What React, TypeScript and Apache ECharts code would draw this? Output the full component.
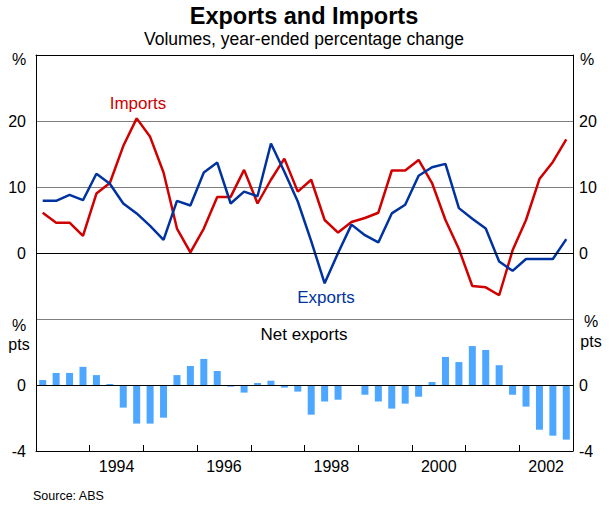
import React, { useEffect, useRef } from "react";
import * as echarts from "echarts";

// ---- Data (quarterly, 1993 Q1 to 2002 Q4) ----
const years = ["1993", "1994", "1995", "1996", "1997", "1998", "1999", "2000", "2001", "2002"];
const quarters = years.flatMap((y) => ["Q1", "Q2", "Q3", "Q4"].map((q) => `${y} ${q}`));

const imports = [
  6.1, 4.6, 4.6, 2.6, 9.0, 10.6, 16.2, 20.4, 17.6, 12.2,
  3.7, 0.1, 3.7, 8.5, 8.5, 12.6, 7.5, 11.1, 14.3, 9.3,
  11.1, 5.0, 3.1, 4.7, 5.3, 6.1, 12.5, 12.5, 14.1, 10.6,
  5.0, 0.6, -5.0, -5.2, -6.4, 0.4, 5.0, 11.2, 13.8, 17.2,
];

const exportsVol = [
  7.9, 7.9, 8.8, 8.0, 12.0, 10.5, 7.5, 6.0, 4.1, 2.0,
  7.9, 7.2, 12.2, 13.7, 7.5, 9.3, 8.6, 16.6, 12.3, 7.8,
  1.8, -4.6, 0.0, 4.3, 2.7, 1.6, 6.0, 7.3, 11.7, 13.0,
  13.5, 6.8, 5.2, 3.7, -1.3, -2.7, -0.9, -0.9, -0.9, 2.1,
];

const netExports = [
  0.3, 0.73, 0.73, 1.1, 0.6, 0.06, -1.37, -2.34, -2.34, -1.98,
  0.6, 1.15, 1.58, 0.85, -0.1, -0.46, 0.12, 0.26, -0.16, -0.4,
  -1.8, -1.0, -0.89, 0.0, -0.59, -1.0, -1.43, -1.13, -0.71, 0.18,
  1.7, 1.39, 2.36, 2.12, 1.2, -0.59, -1.31, -2.71, -3.07, -3.31,
];

const FONT = "'Liberation Sans', Arial, Helvetica, sans-serif";
const RED = "#D00000";
const BLUE = "#0033A0";
const BARS = "#4DA6FF";
const GRID_GREY = "#7F7F7F";

export default function App() {
  const ref = useRef<HTMLDivElement>(null);

  useEffect(() => {
    document.body.style.margin = "0";
    if (!ref.current) return;
    const chart = echarts.init(ref.current, undefined, { renderer: "svg" });

    const axisLabelStyle = { color: "#000", fontSize: 16, fontFamily: FONT };
    const txt = (text: string, x: number, y: number, opts: any = {}) => ({
      type: "text",
      x,
      y,
      silent: true,
      style: {
        text,
        fill: opts.fill || "#000",
        fontSize: opts.fontSize || 17,
        fontWeight: opts.fontWeight || "normal",
        fontFamily: FONT,
        textAlign: opts.align || "center",
        textVerticalAlign: "middle",
      },
    });

    const option: any = {
      animation: false,
      backgroundColor: "#fff",
      grid: [
        { left: 36, right: 37, top: 55, height: 264, show: false },
        { left: 36, right: 37, top: 319, height: 132, show: false },
      ],
      xAxis: [
        {
          type: "category",
          gridIndex: 0,
          data: quarters,
          position: "top",
          boundaryGap: true,
          axisLine: { show: true, onZero: false, lineStyle: { color: "#000", width: 1 } },
          axisTick: { show: false },
          axisLabel: { show: false },
          splitLine: { show: false },
        },
        {
          type: "category",
          gridIndex: 1,
          data: quarters,
          position: "bottom",
          boundaryGap: true,
          show: false,
        },
        {
          type: "category",
          gridIndex: 1,
          data: years,
          position: "bottom",
          boundaryGap: true,
          axisLine: { show: true, onZero: false, lineStyle: { color: "#000", width: 1 } },
          axisTick: { show: true, inside: true, length: 6, interval: 0, lineStyle: { color: "#000" } },
          axisLabel: {
            ...axisLabelStyle,
            margin: 7,
            interval: (i: number) => i % 2 === 1,
          },
          splitLine: { show: false },
        },
      ],
      yAxis: [
        {
          type: "value",
          gridIndex: 0,
          position: "left",
          min: -10,
          max: 30,
          interval: 10,
          axisLine: { show: true, lineStyle: { color: "#000" } },
          axisTick: { show: false },
          axisLabel: { ...axisLabelStyle, margin: 10, showMinLabel: false, showMaxLabel: false },
          splitLine: { show: true, lineStyle: { color: GRID_GREY, width: 1 } },
        },
        {
          type: "value",
          gridIndex: 0,
          position: "right",
          min: -10,
          max: 30,
          interval: 10,
          axisLine: { show: true, lineStyle: { color: "#000" } },
          axisTick: { show: false },
          axisLabel: { ...axisLabelStyle, margin: 6, showMinLabel: false, showMaxLabel: false },
          splitLine: { show: false },
        },
        {
          type: "value",
          gridIndex: 1,
          position: "left",
          min: -4,
          max: 4,
          interval: 4,
          axisLine: { show: true, lineStyle: { color: "#000" } },
          axisTick: { show: false },
          axisLabel: { ...axisLabelStyle, margin: 10, showMaxLabel: false },
          splitLine: { show: true, lineStyle: { color: GRID_GREY, width: 1 } },
        },
        {
          type: "value",
          gridIndex: 1,
          position: "right",
          min: -4,
          max: 4,
          interval: 4,
          axisLine: { show: true, lineStyle: { color: "#000" } },
          axisTick: { show: false },
          axisLabel: { ...axisLabelStyle, margin: 6, showMaxLabel: false },
          splitLine: { show: false },
        },
      ],
      series: [
        {
          name: "Imports",
          type: "line",
          xAxisIndex: 0,
          yAxisIndex: 0,
          data: imports,
          symbol: "none",
          lineStyle: { color: RED, width: 2.5 },
          itemStyle: { color: RED },
          z: 3,
          markLine: {
            silent: true,
            symbol: "none",
            label: { show: false },
            lineStyle: { color: "#000", width: 1, type: "solid" },
            data: [{ yAxis: 0 }],
          },
        },
        {
          name: "Exports",
          type: "line",
          xAxisIndex: 0,
          yAxisIndex: 0,
          data: exportsVol,
          symbol: "none",
          lineStyle: { color: BLUE, width: 2.5 },
          itemStyle: { color: BLUE },
          z: 4,
        },
        {
          name: "Net exports",
          type: "bar",
          xAxisIndex: 1,
          yAxisIndex: 2,
          data: netExports,
          barWidth: 7,
          itemStyle: { color: BARS },
          markLine: {
            silent: true,
            symbol: "none",
            label: { show: false },
            lineStyle: { color: "#000", width: 1, type: "solid" },
            data: [{ yAxis: 0 }],
          },
        },
      ],
      graphic: [
        txt("Exports and Imports", 304, 16, { fontSize: 23.5, fontWeight: "bold" }),
        txt("Volumes, year-ended percentage change", 304, 39, { fontSize: 17.5 }),
        txt("%", 19, 59, { fontSize: 16 }),
        txt("%", 587, 59, { fontSize: 16 }),
        txt("%", 19, 325, { fontSize: 16 }),
        txt("pts", 19, 344, { fontSize: 16 }),
        txt("%", 591, 321, { fontSize: 16 }),
        txt("pts", 591, 341, { fontSize: 16 }),
        txt("Imports", 138, 103, { fontSize: 17, fill: RED }),
        txt("Exports", 326, 297, { fontSize: 17, fill: BLUE }),
        txt("Net exports", 304, 334, { fontSize: 17 }),
        txt("Source: ABS", 33, 496, { fontSize: 12.5, align: "left" }),
      ],
    };

    chart.setOption(option);
    return () => chart.dispose();
  }, []);

  return <div ref={ref} style={{ width: 610, height: 508 }} />;
}
